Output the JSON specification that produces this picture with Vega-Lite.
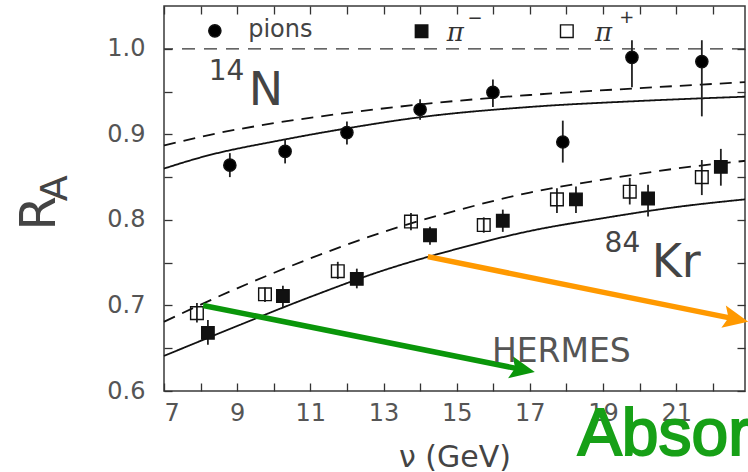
{
  "$schema": "https://vega.github.io/schema/vega-lite/v6.json",
  "width": 581,
  "height": 385,
  "autosize": "none",
  "padding": {"left": 164, "top": 6, "right": 3, "bottom": 81},
  "background": "white",
  "config": {
    "view": {"stroke": "#3a3a3a", "strokeWidth": 1.5},
    "axis": {
      "domain": false, "grid": false, "tickColor": "#333", "tickWidth": 1.3, "tickSize": -8,
      "labelFont": "DejaVu Sans", "labelFontSize": 24, "labelColor": "#555",
      "titleFont": "DejaVu Sans", "titleFontWeight": "normal", "titleColor": "#444"
    },
    "text": {"font": "DejaVu Sans"}
  },
  "datasets": {
    "curves": [
      {"c": "Ns", "s": "solid", "nu": 7, "R": 0.860},
      {"c": "Ns", "s": "solid", "nu": 8, "R": 0.873},
      {"c": "Ns", "s": "solid", "nu": 10.3, "R": 0.894},
      {"c": "Ns", "s": "solid", "nu": 12, "R": 0.907},
      {"c": "Ns", "s": "solid", "nu": 14, "R": 0.920},
      {"c": "Ns", "s": "solid", "nu": 17, "R": 0.932},
      {"c": "Ns", "s": "solid", "nu": 20, "R": 0.939},
      {"c": "Ns", "s": "solid", "nu": 22.88, "R": 0.944},
      {"c": "Nd", "s": "dashed", "nu": 7, "R": 0.887},
      {"c": "Nd", "s": "dashed", "nu": 8.26, "R": 0.8995},
      {"c": "Nd", "s": "dashed", "nu": 10, "R": 0.913},
      {"c": "Nd", "s": "dashed", "nu": 12, "R": 0.925},
      {"c": "Nd", "s": "dashed", "nu": 14, "R": 0.935},
      {"c": "Nd", "s": "dashed", "nu": 17, "R": 0.946},
      {"c": "Nd", "s": "dashed", "nu": 20, "R": 0.954},
      {"c": "Nd", "s": "dashed", "nu": 22.88, "R": 0.961},
      {"c": "Ks", "s": "solid", "nu": 7, "R": 0.641},
      {"c": "Ks", "s": "solid", "nu": 9, "R": 0.676},
      {"c": "Ks", "s": "solid", "nu": 11, "R": 0.710},
      {"c": "Ks", "s": "solid", "nu": 13, "R": 0.741},
      {"c": "Ks", "s": "solid", "nu": 15, "R": 0.766},
      {"c": "Ks", "s": "solid", "nu": 17, "R": 0.787},
      {"c": "Ks", "s": "solid", "nu": 19, "R": 0.802},
      {"c": "Ks", "s": "solid", "nu": 21, "R": 0.815},
      {"c": "Ks", "s": "solid", "nu": 22.88, "R": 0.824},
      {"c": "Kd", "s": "dashed", "nu": 7, "R": 0.681},
      {"c": "Kd", "s": "dashed", "nu": 9, "R": 0.720},
      {"c": "Kd", "s": "dashed", "nu": 11, "R": 0.755},
      {"c": "Kd", "s": "dashed", "nu": 13, "R": 0.786},
      {"c": "Kd", "s": "dashed", "nu": 15, "R": 0.811},
      {"c": "Kd", "s": "dashed", "nu": 17, "R": 0.832},
      {"c": "Kd", "s": "dashed", "nu": 19, "R": 0.847},
      {"c": "Kd", "s": "dashed", "nu": 21, "R": 0.860},
      {"c": "Kd", "s": "dashed", "nu": 22.88, "R": 0.869}
    ],
    "pts": [
      {"s": "pions", "nu": 8.80, "R": 0.864, "lo": 0.850, "hi": 0.878},
      {"s": "pions", "nu": 10.31, "R": 0.880, "lo": 0.866, "hi": 0.894},
      {"s": "pions", "nu": 12.00, "R": 0.902, "lo": 0.888, "hi": 0.915},
      {"s": "pions", "nu": 14.00, "R": 0.929, "lo": 0.917, "hi": 0.941},
      {"s": "pions", "nu": 15.99, "R": 0.949, "lo": 0.932, "hi": 0.964},
      {"s": "pions", "nu": 17.90, "R": 0.891, "lo": 0.867, "hi": 0.916},
      {"s": "pions", "nu": 19.79, "R": 0.990, "lo": 0.955, "hi": 1.010},
      {"s": "pions", "nu": 21.70, "R": 0.985, "lo": 0.921, "hi": 1.010},
      {"s": "pip", "nu": 7.90, "R": 0.691, "lo": 0.680, "hi": 0.703},
      {"s": "pip", "nu": 9.76, "R": 0.713, "lo": 0.704, "hi": 0.721},
      {"s": "pip", "nu": 11.75, "R": 0.740, "lo": 0.731, "hi": 0.751},
      {"s": "pip", "nu": 13.75, "R": 0.798, "lo": 0.788, "hi": 0.808},
      {"s": "pip", "nu": 15.74, "R": 0.794, "lo": 0.785, "hi": 0.803},
      {"s": "pip", "nu": 17.74, "R": 0.824, "lo": 0.808, "hi": 0.837},
      {"s": "pip", "nu": 19.73, "R": 0.833, "lo": 0.818, "hi": 0.849},
      {"s": "pip", "nu": 21.70, "R": 0.850, "lo": 0.829, "hi": 0.870},
      {"s": "pim", "nu": 8.20, "R": 0.668, "lo": 0.654, "hi": 0.683},
      {"s": "pim", "nu": 10.25, "R": 0.711, "lo": 0.698, "hi": 0.723},
      {"s": "pim", "nu": 12.27, "R": 0.731, "lo": 0.720, "hi": 0.743},
      {"s": "pim", "nu": 14.27, "R": 0.782, "lo": 0.771, "hi": 0.792},
      {"s": "pim", "nu": 16.26, "R": 0.799, "lo": 0.786, "hi": 0.812},
      {"s": "pim", "nu": 18.26, "R": 0.824, "lo": 0.808, "hi": 0.839},
      {"s": "pim", "nu": 20.23, "R": 0.825, "lo": 0.804, "hi": 0.841},
      {"s": "pim", "nu": 22.22, "R": 0.862, "lo": 0.840, "hi": 0.883}
    ],
    "legend": [
      {"s": "pions", "nu": 8.39, "R": 1.021},
      {"s": "pim", "nu": 14.04, "R": 1.0205},
      {"s": "pip", "nu": 18.01, "R": 1.0205}
    ],
    "arrows": [
      {"a": "green", "nu": 8.07, "R": 0.700, "nu2": 16.80, "R2": 0.625},
      {"a": "orange", "nu": 14.21, "R": 0.757, "nu2": 22.63, "R2": 0.684}
    ],
    "notes": [
      {"k": "iso", "t": "N", "nu": 9.79, "R": 0.951},
      {"k": "iso", "t": "Kr", "nu": 21.0, "R": 0.750},
      {"k": "mass", "t": "14", "nu": 8.71, "R": 0.973},
      {"k": "mass", "t": "84", "nu": 19.53, "R": 0.772},
      {"k": "exp", "t": "HERMES", "nu": 17.86, "R": 0.646},
      {"k": "leg", "t": "pions", "nu": 9.3, "R": 1.0225},
      {"k": "pi", "t": "π", "nu": 14.73, "R": 1.019},
      {"k": "pi", "t": "π", "nu": 18.78, "R": 1.019},
      {"k": "sign", "t": "−", "nu": 15.50, "R": 1.0352},
      {"k": "sign", "t": "+", "nu": 19.65, "R": 1.0365},
      {"k": "absor", "t": "Absor", "nu": 18.31, "R": 0.5248},
      {"k": "RR", "t": "R", "nu": 4.02, "R": 0.8076},
      {"k": "RA", "t": "A", "nu": 4.35, "R": 0.837}
    ]
  },
  "layer": [
    {
      "data": {"name": "curves"},
      "mark": {"type": "line", "interpolate": "monotone", "color": "#111", "strokeWidth": 1.8},
      "encoding": {
        "x": {"field": "nu", "type": "quantitative", "scale": {"domain": [7, 22.88], "nice": false, "zero": false},
          "axis": {"orient": "bottom", "values": [7,8,9,10,11,12,13,14,15,16,17,18,19,20,21,22], "labelExpr": "datum.value % 2 == 1 ? datum.label : ''", "labelPadding": 18, "title": "ν (GeV)", "titleFontSize": 30, "titlePadding": 17}},
        "y": {"field": "R", "type": "quantitative", "scale": {"domain": [0.6, 1.05], "nice": false, "zero": false},
          "axis": {"orient": "left", "values": [0.6,0.65,0.7,0.75,0.8,0.85,0.9,0.95,1.0], "labelExpr": "round(datum.value*100) % 10 == 0 ? format(datum.value, '.1f') : ''", "labelPadding": 27, "title": null}},
        "detail": {"field": "c", "type": "nominal"},
        "strokeDash": {"field": "s", "type": "nominal", "scale": {"domain": ["solid", "dashed"], "range": [[1, 0], [12, 8]]}, "legend": null}
      }
    },
    {
      "data": {"values": [{"R": 1.0}]},
      "mark": {"type": "rule", "color": "#333", "strokeWidth": 1.3, "strokeDash": [13, 9]},
      "encoding": {
        "y": {"field": "R", "type": "quantitative", "scale": {"domain": [0.6, 1.05], "nice": false, "zero": false}, "axis": null}
      }
    },
    {
      "data": {"name": "pts"},
      "mark": {"type": "rule", "color": "#222", "strokeWidth": 1.8},
      "encoding": {
        "x": {"field": "nu", "type": "quantitative", "scale": {"domain": [7, 22.88], "nice": false, "zero": false},
          "axis": {"orient": "top", "values": [7,8,9,10,11,12,13,14,15,16,17,18,19,20,21,22], "labels": false, "title": null}},
        "y": {"field": "lo", "type": "quantitative", "scale": {"domain": [0.6, 1.05], "nice": false, "zero": false},
          "axis": {"orient": "right", "values": [0.6,0.65,0.7,0.75,0.8,0.85,0.9,0.95,1.0], "labels": false, "title": null}},
        "y2": {"field": "hi"}
      }
    },
    {
      "data": {"name": "pts"},
      "mark": {"type": "point", "stroke": "#111", "strokeWidth": 1.4, "opacity": 1},
      "encoding": {
        "x": {"field": "nu", "type": "quantitative", "scale": {"domain": [7, 22.88], "nice": false, "zero": false}, "axis": null},
        "y": {"field": "R", "type": "quantitative", "scale": {"domain": [0.6, 1.05], "nice": false, "zero": false}, "axis": null},
        "shape": {"field": "s", "type": "nominal", "scale": {"domain": ["pions", "pim", "pip"], "range": ["circle", "square", "square"]}, "legend": null},
        "fill": {"field": "s", "type": "nominal", "scale": {"domain": ["pions", "pim", "pip"], "range": ["#000000", "#111111", "transparent"]}, "legend": null},
        "size": {"field": "s", "type": "nominal", "scale": {"domain": ["pions", "pim", "pip"], "range": [150, 160, 180]}, "legend": null}
      }
    },
    {
      "data": {"name": "legend"},
      "mark": {"type": "point", "stroke": "#111", "strokeWidth": 1.4, "opacity": 1},
      "encoding": {
        "x": {"field": "nu", "type": "quantitative", "scale": {"domain": [7, 22.88], "nice": false, "zero": false}, "axis": null},
        "y": {"field": "R", "type": "quantitative", "scale": {"domain": [0.6, 1.05], "nice": false, "zero": false}, "axis": null},
        "shape": {"field": "s", "type": "nominal", "scale": {"domain": ["pions", "pim", "pip"], "range": ["circle", "square", "square"]}, "legend": null},
        "fill": {"field": "s", "type": "nominal", "scale": {"domain": ["pions", "pim", "pip"], "range": ["#000000", "#111111", "transparent"]}, "legend": null},
        "size": {"field": "s", "type": "nominal", "scale": {"domain": ["pions", "pim", "pip"], "range": [150, 160, 180]}, "legend": null}
      }
    },
    {
      "data": {"name": "arrows"},
      "mark": {"type": "rule", "strokeWidth": 5.5},
      "encoding": {
        "x": {"field": "nu", "type": "quantitative", "scale": {"domain": [7, 22.88], "nice": false, "zero": false}, "axis": null},
        "x2": {"field": "nu2"},
        "y": {"field": "R", "type": "quantitative", "scale": {"domain": [0.6, 1.05], "nice": false, "zero": false}, "axis": null},
        "y2": {"field": "R2"},
        "color": {"field": "a", "type": "nominal", "scale": {"domain": ["green", "orange"], "range": ["#0a960a", "#ff9900"]}, "legend": null}
      }
    },
    {
      "data": {"name": "arrows"},
      "mark": {"type": "point", "shape": "M1,0L-1,-0.9L-0.6,0L-1,0.9Z", "size": 625, "angle": 11.5, "filled": true, "opacity": 1},
      "encoding": {
        "x": {"field": "nu2", "type": "quantitative", "scale": {"domain": [7, 22.88], "nice": false, "zero": false}, "axis": null},
        "y": {"field": "R2", "type": "quantitative", "scale": {"domain": [0.6, 1.05], "nice": false, "zero": false}, "axis": null},
        "color": {"field": "a", "type": "nominal", "scale": {"domain": ["green", "orange"], "range": ["#0a960a", "#ff9900"]}, "legend": null}
      }
    },
    {
      "data": {"name": "notes"},
      "transform": [{"filter": "datum.k == 'iso'"}],
      "mark": {"type": "text", "font": "DejaVu Sans", "fontSize": 46, "color": "#444", "align": "center", "baseline": "middle"},
      "encoding": {
        "x": {"field": "nu", "type": "quantitative", "scale": {"domain": [7, 22.88], "nice": false, "zero": false}, "axis": null},
        "y": {"field": "R", "type": "quantitative", "scale": {"domain": [0.6, 1.05], "nice": false, "zero": false}, "axis": null},
        "text": {"field": "t"}
      }
    },
    {
      "data": {"name": "notes"},
      "transform": [{"filter": "datum.k == 'mass'"}],
      "mark": {"type": "text", "font": "DejaVu Sans", "fontSize": 28, "color": "#444", "align": "center", "baseline": "middle"},
      "encoding": {
        "x": {"field": "nu", "type": "quantitative", "scale": {"domain": [7, 22.88], "nice": false, "zero": false}, "axis": null},
        "y": {"field": "R", "type": "quantitative", "scale": {"domain": [0.6, 1.05], "nice": false, "zero": false}, "axis": null},
        "text": {"field": "t"}
      }
    },
    {
      "data": {"name": "notes"},
      "transform": [{"filter": "datum.k == 'exp'"}],
      "mark": {"type": "text", "font": "DejaVu Sans", "fontSize": 33, "color": "#555", "align": "center", "baseline": "middle"},
      "encoding": {
        "x": {"field": "nu", "type": "quantitative", "scale": {"domain": [7, 22.88], "nice": false, "zero": false}, "axis": null},
        "y": {"field": "R", "type": "quantitative", "scale": {"domain": [0.6, 1.05], "nice": false, "zero": false}, "axis": null},
        "text": {"field": "t"}
      }
    },
    {
      "data": {"name": "notes"},
      "transform": [{"filter": "datum.k == 'leg'"}],
      "mark": {"type": "text", "font": "DejaVu Sans", "fontSize": 24, "color": "#444", "align": "left", "baseline": "middle"},
      "encoding": {
        "x": {"field": "nu", "type": "quantitative", "scale": {"domain": [7, 22.88], "nice": false, "zero": false}, "axis": null},
        "y": {"field": "R", "type": "quantitative", "scale": {"domain": [0.6, 1.05], "nice": false, "zero": false}, "axis": null},
        "text": {"field": "t"}
      }
    },
    {
      "data": {"name": "notes"},
      "transform": [{"filter": "datum.k == 'pi'"}],
      "mark": {"type": "text", "font": "DejaVu Serif", "fontStyle": "italic", "fontSize": 26, "color": "#333", "align": "left", "baseline": "middle"},
      "encoding": {
        "x": {"field": "nu", "type": "quantitative", "scale": {"domain": [7, 22.88], "nice": false, "zero": false}, "axis": null},
        "y": {"field": "R", "type": "quantitative", "scale": {"domain": [0.6, 1.05], "nice": false, "zero": false}, "axis": null},
        "text": {"field": "t"}
      }
    },
    {
      "data": {"name": "notes"},
      "transform": [{"filter": "datum.k == 'sign'"}],
      "mark": {"type": "text", "font": "DejaVu Sans", "fontSize": 18, "color": "#333", "align": "center", "baseline": "middle"},
      "encoding": {
        "x": {"field": "nu", "type": "quantitative", "scale": {"domain": [7, 22.88], "nice": false, "zero": false}, "axis": null},
        "y": {"field": "R", "type": "quantitative", "scale": {"domain": [0.6, 1.05], "nice": false, "zero": false}, "axis": null},
        "text": {"field": "t"}
      }
    },
    {
      "data": {"name": "notes"},
      "transform": [{"filter": "datum.k == 'RR'"}],
      "mark": {"type": "text", "font": "DejaVu Sans", "fontSize": 50, "color": "#444", "align": "center", "baseline": "alphabetic", "angle": 270},
      "encoding": {
        "x": {"field": "nu", "type": "quantitative", "scale": {"domain": [7, 22.88], "nice": false, "zero": false}, "axis": null},
        "y": {"field": "R", "type": "quantitative", "scale": {"domain": [0.6, 1.05], "nice": false, "zero": false}, "axis": null},
        "text": {"field": "t"}
      }
    },
    {
      "data": {"name": "notes"},
      "transform": [{"filter": "datum.k == 'RA'"}],
      "mark": {"type": "text", "font": "DejaVu Sans", "fontSize": 38, "color": "#444", "align": "center", "baseline": "alphabetic", "angle": 270},
      "encoding": {
        "x": {"field": "nu", "type": "quantitative", "scale": {"domain": [7, 22.88], "nice": false, "zero": false}, "axis": null},
        "y": {"field": "R", "type": "quantitative", "scale": {"domain": [0.6, 1.05], "nice": false, "zero": false}, "axis": null},
        "text": {"field": "t"}
      }
    },
    {
      "data": {"name": "notes"},
      "transform": [{"filter": "datum.k == 'absor'"}],
      "mark": {"type": "text", "font": "Liberation Sans", "fontSize": 66, "color": "#17a017", "stroke": "#17a017", "strokeWidth": 2, "align": "left", "baseline": "alphabetic"},
      "encoding": {
        "x": {"field": "nu", "type": "quantitative", "scale": {"domain": [7, 22.88], "nice": false, "zero": false}, "axis": null},
        "y": {"field": "R", "type": "quantitative", "scale": {"domain": [0.6, 1.05], "nice": false, "zero": false}, "axis": null},
        "text": {"field": "t"}
      }
    }
  ],
  "resolve": {"axis": {"x": "independent", "y": "independent"}}
}
